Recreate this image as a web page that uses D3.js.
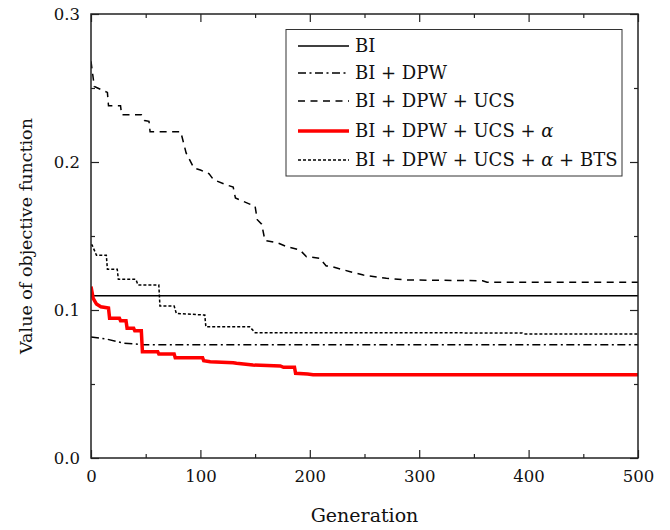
<!DOCTYPE html>
<html>
<head>
<meta charset="utf-8">
<script src="https://cdn.jsdelivr.net/npm/d3@7"></script>
<style>
  html, body { margin: 0; padding: 0; background: #fff; }
  svg { display: block; }
</style>
</head>
<body>
<svg id="chart" width="670" height="530"></svg>
<script>
// ---------------- data ----------------
const xTicks = [0, 100, 200, 300, 400, 500];
const yTicks = [0.0, 0.1, 0.2, 0.3];
const yTickLabels = ["0.0", "0.1", "0.2", "0.3"];
const xTitle = "Generation";
const yTitle = "Value of objective function";

const seriesNames = ["BI", "BI + DPW", "BI + DPW + UCS", "BI + DPW + UCS + α", "BI + DPW + UCS + α + BTS"];

const biGen = [0, 500];
const biVal = [0.1097, 0.1097];

const dpwGen = [0, 14, 29, 47, 500];
const dpwVal = [0.0818, 0.0804, 0.0777, 0.0766, 0.0766];

const ucsGen = [0, 3, 9, 15, 16, 27, 28, 46, 49, 53, 54, 82, 87, 94, 100, 108, 112, 124, 130, 132, 150, 152, 156, 159, 170, 179, 191, 197, 209, 215, 218, 237, 249, 270, 289, 358, 362, 500];
const ucsVal = [0.268, 0.251, 0.249, 0.247, 0.238, 0.238, 0.232, 0.232, 0.228, 0.2275, 0.2205, 0.2205, 0.206, 0.196, 0.1946, 0.192, 0.188, 0.1845, 0.183, 0.1757, 0.170, 0.161, 0.158, 0.147, 0.1455, 0.1428, 0.1405, 0.136, 0.135, 0.1297, 0.1297, 0.1259, 0.1236, 0.1214, 0.1203, 0.1198, 0.1187, 0.1187];

const alphaGen = [0, 2, 5, 9, 16, 17, 26, 27, 32, 33, 39, 40, 46, 47, 61, 62, 76, 77, 102, 103, 109, 130, 133, 148, 173, 176, 186, 187, 198, 203, 500];
const alphaVal = [0.1158, 0.1079, 0.104, 0.1022, 0.1013, 0.0944, 0.0944, 0.0928, 0.0928, 0.0876, 0.0876, 0.086, 0.086, 0.0718, 0.0718, 0.0703, 0.0703, 0.0678, 0.0678, 0.0658, 0.065, 0.0644, 0.064, 0.0628, 0.0622, 0.0613, 0.0613, 0.0572, 0.0568, 0.0563, 0.0563];

const btsGen = [0, 1, 5, 14, 15, 24, 25, 41, 43, 62, 63, 76, 78, 104, 105, 145, 150, 394, 396, 500];
const btsVal = [0.1439, 0.1439, 0.137, 0.137, 0.1275, 0.1275, 0.1207, 0.1207, 0.1169, 0.1169, 0.1027, 0.1027, 0.0977, 0.0966, 0.0887, 0.0887, 0.0847, 0.0845, 0.0838, 0.0838];

// ---------------- layout ----------------
const FONT = "'DejaVu Serif', 'Liberation Serif', serif";
const svg = d3.select("#chart");
const plot = { left: 91, right: 638, top: 14, bottom: 458 };

const x = d3.scaleLinear().domain([0, 500]).range([plot.left, plot.right]);
const y = d3.scaleLinear().domain([0, 0.3]).range([plot.bottom, plot.top]);

const styles = [
  { color: "#000", width: 1.5, dash: null },
  { color: "#000", width: 1.5, dash: "8,3.5,2,3.5" },
  { color: "#000", width: 1.5, dash: "7,5.5" },
  { color: "#ff0000", width: 3.5, dash: null },
  { color: "#000", width: 1.5, dash: "3,2" }
];

const series = [
  biGen.map((g, i) => [g, biVal[i]]),
  dpwGen.map((g, i) => [g, dpwVal[i]]),
  ucsGen.map((g, i) => [g, ucsVal[i]]),
  alphaGen.map((g, i) => [g, alphaVal[i]]),
  btsGen.map((g, i) => [g, btsVal[i]])
];

const line = d3.line().x(d => x(d[0])).y(d => y(d[1]));

svg.append("clipPath").attr("id", "clip").append("rect")
  .attr("x", plot.left).attr("y", plot.top)
  .attr("width", plot.right - plot.left).attr("height", plot.bottom - plot.top);

const lines = svg.append("g").attr("clip-path", "url(#clip)");
[0, 1, 2, 4, 3].forEach(i => {
  lines.append("path")
    .datum(series[i])
    .attr("d", line)
    .attr("fill", "none")
    .attr("stroke", styles[i].color)
    .attr("stroke-width", styles[i].width)
    .attr("stroke-dasharray", styles[i].dash)
    .attr("stroke-linejoin", "miter");
});

// ---------------- axes ----------------
const axisColor = "#222";
const xMinor = d3.range(50, 500, 100);
const yMinor = [0.05, 0.15, 0.25];

function styleAxis(g) {
  g.attr("font-family", FONT);
  g.select(".domain").remove();
  g.selectAll(".tick line").attr("stroke", axisColor).attr("stroke-width", 1.2);
}

const xb = svg.append("g").attr("transform", `translate(0,${plot.bottom})`)
  .call(d3.axisBottom(x).tickValues(xTicks).tickSizeInner(-8).tickSizeOuter(0).tickPadding(10).tickFormat(d3.format("d")));
styleAxis(xb);
xb.selectAll(".tick text").attr("font-family", FONT).attr("font-size", 16.5).attr("fill", "#111")
  .attr("y", 24).attr("dy", 0);
svg.append("g").attr("transform", `translate(0,${plot.bottom})`)
  .call(d3.axisBottom(x).tickValues(xMinor).tickSizeInner(-4).tickSizeOuter(0).tickFormat(""))
  .call(styleAxis);

svg.append("g").attr("transform", `translate(0,${plot.top})`)
  .call(d3.axisTop(x).tickValues(xTicks).tickSizeInner(-8).tickSizeOuter(0).tickFormat(""))
  .call(styleAxis);
svg.append("g").attr("transform", `translate(0,${plot.top})`)
  .call(d3.axisTop(x).tickValues(xMinor).tickSizeInner(-4).tickSizeOuter(0).tickFormat(""))
  .call(styleAxis);

const yl = svg.append("g").attr("transform", `translate(${plot.left},0)`)
  .call(d3.axisLeft(y).tickValues(yTicks).tickSizeInner(-8).tickSizeOuter(0).tickPadding(11)
    .tickFormat((d, i) => yTickLabels[i]));
styleAxis(yl);
yl.selectAll(".tick text").attr("font-family", FONT).attr("font-size", 16.5).attr("fill", "#111")
  .attr("dy", "0.36em");
svg.append("g").attr("transform", `translate(${plot.left},0)`)
  .call(d3.axisLeft(y).tickValues(yMinor).tickSizeInner(-4).tickSizeOuter(0).tickFormat(""))
  .call(styleAxis);

svg.append("g").attr("transform", `translate(${plot.right},0)`)
  .call(d3.axisRight(y).tickValues(yTicks).tickSizeInner(-8).tickSizeOuter(0).tickFormat(""))
  .call(styleAxis);
svg.append("g").attr("transform", `translate(${plot.right},0)`)
  .call(d3.axisRight(y).tickValues(yMinor).tickSizeInner(-4).tickSizeOuter(0).tickFormat(""))
  .call(styleAxis);

svg.append("rect")
  .attr("x", plot.left).attr("y", plot.top)
  .attr("width", plot.right - plot.left).attr("height", plot.bottom - plot.top)
  .attr("fill", "none").attr("stroke", axisColor).attr("stroke-width", 1.5);

svg.append("text")
  .attr("x", (plot.left + plot.right) / 2).attr("y", 522)
  .attr("text-anchor", "middle")
  .attr("font-family", FONT).attr("font-size", 19).attr("fill", "#111")
  .text(xTitle);
svg.append("text")
  .attr("transform", `translate(32,${(plot.top + plot.bottom) / 2}) rotate(-90)`)
  .attr("text-anchor", "middle")
  .attr("font-family", FONT).attr("font-size", 17.5).attr("fill", "#111")
  .text(yTitle);

// ---------------- legend ----------------
const legend = svg.append("g");
legend.append("rect")
  .attr("x", 286).attr("y", 29.5).attr("width", 336).attr("height", 146.5)
  .attr("fill", "#fff").attr("stroke", "#333").attr("stroke-width", 1);
const rowY = [46, 73, 101, 131, 160];
seriesNames.forEach((name, i) => {
  const g = legend.append("g");
  g.append("line")
    .attr("x1", 298).attr("x2", 349).attr("y1", rowY[i]).attr("y2", rowY[i])
    .attr("stroke", styles[i].color).attr("stroke-width", styles[i].width)
    .attr("stroke-dasharray", styles[i].dash);
  const t = g.append("text").attr("x", 355).attr("y", rowY[i]).attr("dy", "0.36em")
    .attr("font-family", FONT).attr("font-size", 18).attr("fill", "#111");
  const parts = name.split("α");
  parts.forEach((p, j) => {
    if (j > 0) t.append("tspan").attr("font-style", "italic").text("α");
    if (p.length) t.append("tspan").text(p);
  });
});
</script>
</body>
</html>
